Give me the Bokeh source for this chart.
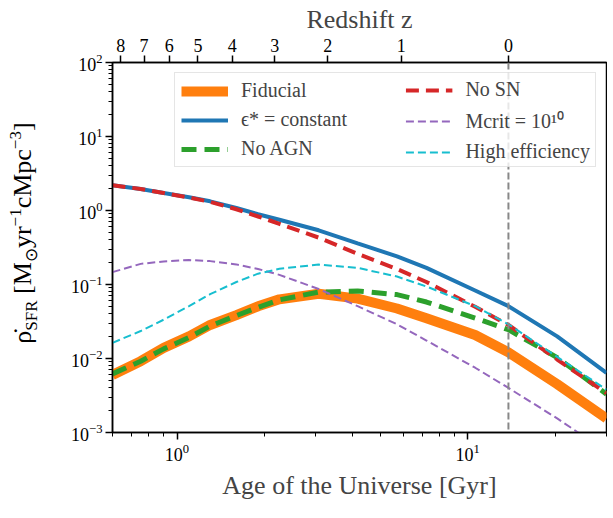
from bokeh.plotting import figure
from bokeh.layouts import row
from bokeh.models import (LogAxis, FixedTicker, CustomJSTickFormatter, Legend,
                          LegendItem, Span, Div)
from bokeh.embed import file_html
from bokeh.resources import INLINE

# age of the universe [Gyr] where the curves were read
age = [0.6, 0.75, 0.9, 1.1, 1.3, 1.6, 1.9, 2.25, 3.07, 4.18, 5.71, 7.21,
       10.6, 13.8, 20.3, 30]

# SFR density [Msun / yr / cMpc^3]
fiducial = [0.0060, 0.0092, 0.0139, 0.0199, 0.0284, 0.0386, 0.0508, 0.063,
            0.075, 0.0644, 0.0474, 0.035, 0.0208, 0.0121, 0.0045, 0.00155]
eps_const = [2.2, 1.95, 1.72, 1.51, 1.33, 1.08, 0.89, 0.75, 0.54, 0.36, 0.24,
             0.168, 0.083, 0.051, 0.0199, 0.0064]
no_agn = [0.0062, 0.0092, 0.0135, 0.0193, 0.0275, 0.038, 0.049, 0.062, 0.079,
          0.0817, 0.073, 0.058, 0.0352, 0.0245, 0.0103, 0.0033]
no_sn = [2.2, 1.95, 1.72, 1.50, 1.31, 1.04, 0.83, 0.66, 0.43, 0.26, 0.162,
         0.108, 0.050, 0.0284, 0.0097, 0.0034]
m_crit = [0.147, 0.19, 0.205, 0.214, 0.207, 0.187, 0.162, 0.135, 0.087, 0.051,
          0.029, 0.0175, 0.0075, 0.0040, 0.00155, 0.00055]
high_eff = [0.0163, 0.0235, 0.0335, 0.051, 0.074, 0.108, 0.140, 0.163, 0.186,
            0.168, 0.128, 0.094, 0.051, 0.029, 0.0105, 0.0038]

# redshift axis on top
z_labels = ["8", "7", "6", "5", "4", "3", "2", "1", "0"]
z_age = [0.64, 0.77, 0.94, 1.18, 1.55, 2.17, 3.3, 5.9, 13.8]

x_major = [1, 10]
x_minor = [0.6, 0.7, 0.8, 0.9, 2, 3, 4, 5, 6, 7, 8, 9, 20, 30]

FONT = "Liberation Serif"

p = figure(width=552, height=502, x_axis_type="log", y_axis_type="log",
           x_range=(0.6, 30), y_range=(1e-3, 1e2),
           output_backend="svg", toolbar_location=None,
           min_border_left=57, min_border_right=1,
           min_border_top=62, min_border_bottom=66)
p.xgrid.visible = False
p.ygrid.visible = False
p.outline_line_color = "black"
p.outline_line_width = 1.5
p.outline_line_alpha = 1.0

bottom = p.below[0]
left = p.left[0]
bottom.ticker = FixedTicker(ticks=x_major, minor_ticks=x_minor)
bottom.axis_label = "Age of the Universe [Gyr]"

top = LogAxis(ticker=FixedTicker(ticks=z_age, minor_ticks=[]),
              formatter=CustomJSTickFormatter(args=dict(labels=z_labels, ages=z_age),
                                              code="return labels[ages.indexOf(tick)]"),
              axis_label="Redshift z")
p.add_layout(top, "above")

for ax in [bottom, left, top]:
    ax.major_tick_out = 7
    ax.major_tick_in = 0
    ax.minor_tick_out = 4
    ax.minor_tick_in = 0
    ax.axis_line_width = 1.5
    ax.major_tick_line_width = 1.5
    ax.minor_tick_line_width = 1
    ax.major_label_text_font = FONT
    ax.major_label_text_font_size = "18px"
    ax.major_label_text_color = "black"
    ax.major_label_standoff = 3
    ax.axis_label_text_font = FONT
    ax.axis_label_text_font_size = "26px"
    ax.axis_label_text_font_style = "normal"
    ax.axis_label_standoff = 6
top.axis_label_standoff = 2
top.major_label_standoff = 4
bottom.major_label_standoff = 4
bottom.axis_label_standoff = 7

r1 = p.line(age, fiducial, color="#ff7f0e", line_width=10)
r2 = p.line(age, eps_const, color="#1f77b4", line_width=4)
r3 = p.line(age, no_agn, color="#2ca02c", line_width=5, line_dash="15 8")
r4 = p.line(age, no_sn, color="#d62728", line_width=4, line_dash="13 7")
r5 = p.line(age, m_crit, color="#9467bd", line_width=2, line_dash="8 4")
r6 = p.line(age, high_eff, color="#17becf", line_width=2, line_dash="8 4")

p.add_layout(Span(location=z_age[-1], dimension="height", line_color="#888888",
                  line_width=2, line_dash="7 3"))

def make_legend(items, label_width, boxed):
    leg = Legend(items=[LegendItem(label=t, renderers=[r]) for t, r in items],
                 location="top_right", margin=10, padding=6, spacing=6,
                 glyph_width=47, glyph_height=20, label_standoff=13,
                 label_width=label_width, label_height=20,
                 label_text_font=FONT, label_text_font_size="20px")
    if boxed:
        leg.border_line_color = "#cccccc"
        leg.border_line_width = 1
        leg.background_fill_color = "white"
        leg.background_fill_alpha = 0.8
    else:
        leg.border_line_alpha = 0
        leg.background_fill_alpha = 0
    return leg

p.add_layout(make_legend([("Fiducial", r1), ("ϵ* = constant", r2), ("No AGN", r3)],
                         348, True))
p.add_layout(make_legend([("No SN", r4), ("Mcrit = 10¹⁰", r5), ("High efficiency", r6)],
                         122, False))

# y axis label with sub/superscripts, rotated
ylabel = Div(width=45, height=502, styles={"overflow": "visible"},
             text='<div style="position:absolute; left:19px; top:228px; '
                  'transform:translate(-50%,-50%) rotate(-90deg); white-space:nowrap; '
                  "font-family:'Liberation Serif'; font-size:26px; color:black;\">"
                  "ρ̇<sub style='font-size:17px'>SFR</sub> "
                  "[M<sub style='font-size:17px'>⊙</sub>yr<sup style='font-size:17px'>−1</sup>"
                  "cMpc<sup style='font-size:17px'>−3</sup>]</div>")

open("out.html", "w").write(file_html(row(ylabel, p), INLINE))
